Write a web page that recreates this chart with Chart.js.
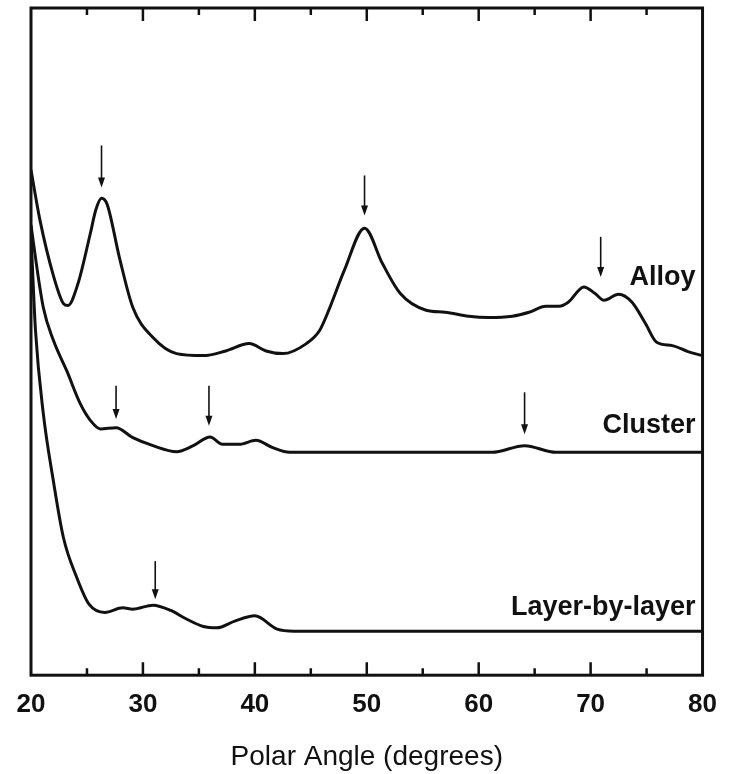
<!DOCTYPE html>
<html>
<head>
<meta charset="utf-8">
<title>Polar Angle Scans</title>
<script src="https://cdn.jsdelivr.net/npm/chart.js@4/dist/chart.umd.min.js"></script>
<style>
  html, body { margin: 0; padding: 0; background: #fff; }
  #wrap { width: 731px; height: 774px; }
</style>
</head>
<body>
<div id="wrap"><canvas id="chart" width="731" height="774"></canvas></div>
<script>
// ── Scan data (polar angle in degrees, intensity in arbitrary units) ──
const seriesNames = ["Alloy", "Cluster", "Layer-by-layer"];

const alloyAngle = [20, 20.8, 22, 22.9, 23.3, 24.2, 25.3, 25.8, 26.3, 26.8, 27.9, 29.1, 30.9, 33, 35.4, 37.4, 39.5, 41, 42.5, 44.6, 45.8, 46.7, 48, 49.8, 51.4, 53, 55.3, 57, 59.1, 60.9, 63, 64.5, 66, 67.2, 68, 69.4, 70.4, 71.2, 72.5, 73.7, 74.9, 75.9, 77.3, 78.7, 80];
const alloyIntensity = [75.7, 68.2, 59.9, 55.7, 55.4, 58.7, 66.2, 69.8, 71.5, 70.6, 62.6, 55.1, 50.6, 48.2, 47.9, 48.6, 49.7, 48.6, 48.2, 49.7, 51.7, 55.1, 60.7, 67.0, 61.7, 57.2, 54.7, 54.4, 53.8, 53.6, 53.8, 54.4, 55.3, 55.3, 55.9, 58.2, 57.2, 56.2, 57.1, 55.9, 52.7, 49.9, 49.4, 48.5, 47.9];

const clusterAngle = [20, 20.15, 21.1, 22, 23.2, 24.4, 25.3, 26.2, 27.6, 29.1, 30.9, 33, 34.5, 36, 37.1, 38.6, 40.1, 41.6, 43.1, 61.2, 64.1, 66.9, 80];
const clusterIntensity = [67.5, 65.6, 55.1, 50.2, 45.6, 40.7, 38.2, 36.9, 37.1, 35.6, 34.4, 33.5, 34.4, 35.7, 34.6, 34.6, 35.2, 34.1, 33.4, 33.4, 34.4, 33.4, 33.4];

const layerAngle = [20, 20.4, 21.1, 22, 22.9, 24.1, 25.2, 26.6, 28.2, 29.1, 30.9, 32.5, 33.8, 35.4, 36.6, 38.2, 40, 42, 43.5, 80];
const layerIntensity = [66, 51.7, 39.2, 29.1, 20.6, 14.6, 10.6, 9.4, 10.1, 9.9, 10.5, 9.7, 8.5, 7.3, 7.1, 8.1, 8.9, 6.9, 6.6, 6.6];

// Marked features: angle, arrow tail and arrow tip (intensity units)
const arrowAngle = [26.3, 49.8, 70.9, 27.6, 35.9, 64.1, 31.1];
const arrowTail = [79.4, 74.9, 65.7, 43.4, 43.4, 42.4, 17.1];
const arrowTip = [73.1, 68.9, 59.7, 38.4, 37.4, 36.1, 11.4];

const xTicks = [20, 30, 40, 50, 60, 70, 80];

const INK = "#111";
const FONT = "'Liberation Sans', Arial, Helvetica, sans-serif";

function points(xs, ys) {
  return xs.map((v, i) => ({ x: v, y: ys[i] }));
}

function curve(label, xs, ys) {
  return {
    label,
    data: points(xs, ys),
    borderColor: INK,
    borderWidth: 3,
    pointRadius: 0,
    fill: false,
    cubicInterpolationMode: "monotone"
  };
}

// ── Frame, inward ticks, arrows and curve labels ───────────
const decorations = {
  id: "decorations",
  afterDatasetsDraw(chart) {
    const { ctx, chartArea: a, scales: { x, y } } = chart;
    ctx.save();
    ctx.strokeStyle = INK;
    ctx.fillStyle = INK;

    ctx.lineWidth = 3;
    ctx.strokeRect(a.left, a.top, a.right - a.left, a.bottom - a.top);

    ctx.lineWidth = 2.5;
    for (let v = 25; v < 80; v += 5) {
      const px = x.getPixelForValue(v);
      const len = v % 10 === 0 ? 13 : 7;
      ctx.beginPath();
      ctx.moveTo(px, a.bottom);
      ctx.lineTo(px, a.bottom - len);
      ctx.moveTo(px, a.top);
      ctx.lineTo(px, a.top + len);
      ctx.stroke();
    }

    ctx.lineWidth = 1.6;
    arrowAngle.forEach((ang, i) => {
      const px = x.getPixelForValue(ang);
      const y0 = y.getPixelForValue(arrowTail[i]);
      const y1 = y.getPixelForValue(arrowTip[i]);
      ctx.beginPath();
      ctx.moveTo(px, y0);
      ctx.lineTo(px, y1 - 8);
      ctx.stroke();
      ctx.beginPath();
      ctx.moveTo(px - 3.5, y1 - 10);
      ctx.lineTo(px + 3.5, y1 - 10);
      ctx.lineTo(px, y1);
      ctx.closePath();
      ctx.fill();
    });

    // labels sit just left of the right frame
    const labelAt = [59.6, 37.4, 10.1];
    ctx.font = `bold 27px ${FONT}`;
    ctx.textAlign = "right";
    ctx.textBaseline = "middle";
    seriesNames.forEach((name, i) => {
      ctx.fillText(name, a.right - 7, y.getPixelForValue(labelAt[i]));
    });

    ctx.restore();
  }
};

new Chart(document.getElementById("chart"), {
  type: "line",
  data: {
    datasets: [
      curve(seriesNames[0], alloyAngle, alloyIntensity),
      curve(seriesNames[1], clusterAngle, clusterIntensity),
      curve(seriesNames[2], layerAngle, layerIntensity)
    ]
  },
  options: {
    responsive: false,
    animation: false,
    layout: { padding: { left: 31, right: 26, top: 8, bottom: 0 } },
    plugins: {
      legend: { display: false },
      tooltip: { enabled: false }
    },
    scales: {
      x: {
        type: "linear",
        min: 20,
        max: 80,
        afterBuildTicks: (scale) => { scale.ticks = xTicks.map(v => ({ value: v })); },
        grid: { display: false, drawTicks: false },
        border: { display: false },
        ticks: {
          color: INK,
          padding: 14,
          maxRotation: 0,
          font: { family: FONT, size: 26, weight: "bold" }
        },
        title: {
          display: true,
          text: "Polar Angle (degrees)",
          color: INK,
          padding: { top: 6, bottom: 0 },
          font: { family: FONT, size: 28 }
        }
      },
      y: {
        display: false,
        min: 0,
        max: 100
      }
    }
  },
  plugins: [decorations]
});
</script>
</body>
</html>
